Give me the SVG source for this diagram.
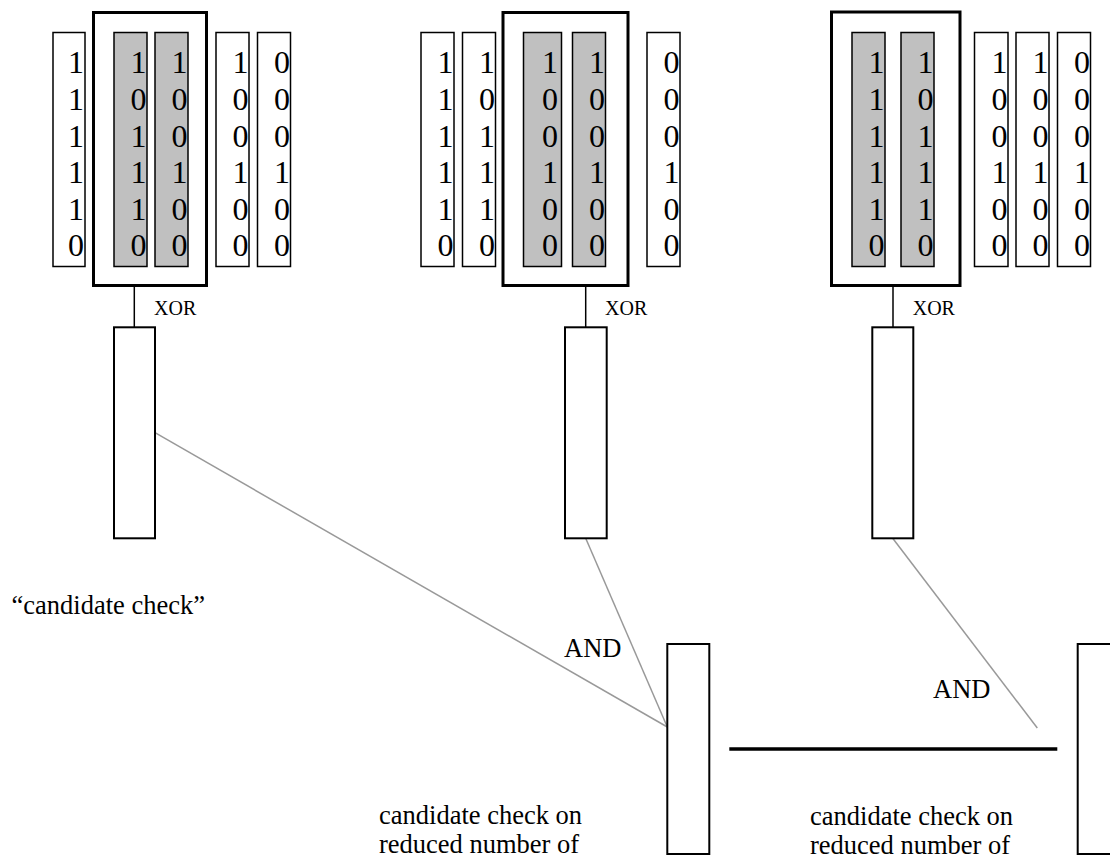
<svg xmlns="http://www.w3.org/2000/svg" width="1110" height="856" viewBox="0 0 1110 856">
<style>
.col{fill:#fff;stroke:#000;stroke-width:1.5}
.g{fill:#c0c0c0;stroke:#000;stroke-width:1.5}
.big{fill:none;stroke:#000;stroke-width:3}
.low{fill:#fff;stroke:#000;stroke-width:2}
.d{font-family:"Liberation Serif","Times New Roman",serif;font-size:32px;text-anchor:end;fill:#000}
.t{font-family:"Liberation Serif","Times New Roman",serif;fill:#000}
.xor{font-size:20px}
.lbl{font-size:26.5px}
.wire{stroke:#000;stroke-width:1.5}
.gl{stroke:#999;stroke-width:1.5;fill:none}
</style>
<g id="group1">
<rect class="big" x="93.5" y="12.5" width="113" height="273"/>
<rect class="col" x="53" y="32.5" width="32" height="234"/>
<rect class="g" x="114" y="32.5" width="33" height="234"/>
<rect class="g" x="155" y="32.5" width="33" height="234"/>
<rect class="col" x="216" y="32.5" width="33" height="234"/>
<rect class="col" x="257.5" y="32.5" width="33" height="234"/>
<text class="d"><tspan x="84" y="73.3">1</tspan><tspan x="84" y="110">1</tspan><tspan x="84" y="146.6">1</tspan><tspan x="84" y="183.2">1</tspan><tspan x="84" y="219.8">1</tspan><tspan x="84" y="256.4">0</tspan></text>
<text class="d"><tspan x="146.5" y="73.3">1</tspan><tspan x="146.5" y="110">0</tspan><tspan x="146.5" y="146.6">1</tspan><tspan x="146.5" y="183.2">1</tspan><tspan x="146.5" y="219.8">1</tspan><tspan x="146.5" y="256.4">0</tspan></text>
<text class="d"><tspan x="187.5" y="73.3">1</tspan><tspan x="187.5" y="110">0</tspan><tspan x="187.5" y="146.6">0</tspan><tspan x="187.5" y="183.2">1</tspan><tspan x="187.5" y="219.8">0</tspan><tspan x="187.5" y="256.4">0</tspan></text>
<text class="d"><tspan x="248.5" y="73.3">1</tspan><tspan x="248.5" y="110">0</tspan><tspan x="248.5" y="146.6">0</tspan><tspan x="248.5" y="183.2">1</tspan><tspan x="248.5" y="219.8">0</tspan><tspan x="248.5" y="256.4">0</tspan></text>
<text class="d"><tspan x="290" y="73.3">0</tspan><tspan x="290" y="110">0</tspan><tspan x="290" y="146.6">0</tspan><tspan x="290" y="183.2">1</tspan><tspan x="290" y="219.8">0</tspan><tspan x="290" y="256.4">0</tspan></text>
<text class="t xor" x="154" y="315">XOR</text>
</g>
<g id="group2">
<rect class="big" x="503" y="12.5" width="125" height="273"/>
<rect class="col" x="421" y="32.5" width="33" height="234"/>
<rect class="col" x="462.5" y="32.5" width="33" height="234"/>
<rect class="g" x="523.5" y="32.5" width="38" height="234"/>
<rect class="g" x="572.5" y="32.5" width="33" height="234"/>
<rect class="col" x="647" y="32.5" width="33" height="234"/>
<text class="d"><tspan x="453.5" y="73.3">1</tspan><tspan x="453.5" y="110">1</tspan><tspan x="453.5" y="146.6">1</tspan><tspan x="453.5" y="183.2">1</tspan><tspan x="453.5" y="219.8">1</tspan><tspan x="453.5" y="256.4">0</tspan></text>
<text class="d"><tspan x="495" y="73.3">1</tspan><tspan x="495" y="110">0</tspan><tspan x="495" y="146.6">1</tspan><tspan x="495" y="183.2">1</tspan><tspan x="495" y="219.8">1</tspan><tspan x="495" y="256.4">0</tspan></text>
<text class="d"><tspan x="558" y="73.3">1</tspan><tspan x="558" y="110">0</tspan><tspan x="558" y="146.6">0</tspan><tspan x="558" y="183.2">1</tspan><tspan x="558" y="219.8">0</tspan><tspan x="558" y="256.4">0</tspan></text>
<text class="d"><tspan x="605" y="73.3">1</tspan><tspan x="605" y="110">0</tspan><tspan x="605" y="146.6">0</tspan><tspan x="605" y="183.2">1</tspan><tspan x="605" y="219.8">0</tspan><tspan x="605" y="256.4">0</tspan></text>
<text class="d"><tspan x="679.5" y="73.3">0</tspan><tspan x="679.5" y="110">0</tspan><tspan x="679.5" y="146.6">0</tspan><tspan x="679.5" y="183.2">1</tspan><tspan x="679.5" y="219.8">0</tspan><tspan x="679.5" y="256.4">0</tspan></text>
<text class="t xor" x="605" y="315">XOR</text>
</g>
<g id="group3">
<rect class="big" x="831.5" y="12" width="128.5" height="273.5"/>
<rect class="g" x="852" y="32.5" width="33" height="234"/>
<rect class="g" x="901" y="32.5" width="33" height="234"/>
<rect class="col" x="974.5" y="32.5" width="33.5" height="234"/>
<rect class="col" x="1016" y="32.5" width="33" height="234"/>
<rect class="col" x="1057.5" y="32.5" width="33" height="234"/>
<text class="d"><tspan x="884.5" y="73.3">1</tspan><tspan x="884.5" y="110">1</tspan><tspan x="884.5" y="146.6">1</tspan><tspan x="884.5" y="183.2">1</tspan><tspan x="884.5" y="219.8">1</tspan><tspan x="884.5" y="256.4">0</tspan></text>
<text class="d"><tspan x="933.5" y="73.3">1</tspan><tspan x="933.5" y="110">0</tspan><tspan x="933.5" y="146.6">1</tspan><tspan x="933.5" y="183.2">1</tspan><tspan x="933.5" y="219.8">1</tspan><tspan x="933.5" y="256.4">0</tspan></text>
<text class="d"><tspan x="1007.5" y="73.3">1</tspan><tspan x="1007.5" y="110">0</tspan><tspan x="1007.5" y="146.6">0</tspan><tspan x="1007.5" y="183.2">1</tspan><tspan x="1007.5" y="219.8">0</tspan><tspan x="1007.5" y="256.4">0</tspan></text>
<text class="d"><tspan x="1048.5" y="73.3">1</tspan><tspan x="1048.5" y="110">0</tspan><tspan x="1048.5" y="146.6">0</tspan><tspan x="1048.5" y="183.2">1</tspan><tspan x="1048.5" y="219.8">0</tspan><tspan x="1048.5" y="256.4">0</tspan></text>
<text class="d"><tspan x="1090" y="73.3">0</tspan><tspan x="1090" y="110">0</tspan><tspan x="1090" y="146.6">0</tspan><tspan x="1090" y="183.2">1</tspan><tspan x="1090" y="219.8">0</tspan><tspan x="1090" y="256.4">0</tspan></text>
<text class="t xor" x="912.7" y="315">XOR</text>
</g>
<g id="connectors">
<line class="wire" x1="134.3" y1="286" x2="134.3" y2="327"/>
<line class="wire" x1="585.7" y1="286" x2="585.7" y2="327"/>
<line class="wire" x1="893" y1="286" x2="893" y2="327"/>
<line class="gl" x1="155" y1="432.7" x2="667.3" y2="727"/>
<line class="gl" x1="585.7" y1="538.3" x2="667.3" y2="727"/>
<line class="gl" x1="892.7" y1="538.3" x2="1037.3" y2="728"/>
<line x1="729.3" y1="749" x2="1057.3" y2="749" stroke="#000" stroke-width="3.5"/>
</g>
<g id="xor1"><rect class="low" x="114" y="327.3" width="41" height="211"/></g>
<g id="xor2"><rect class="low" x="565" y="327.3" width="41.7" height="211"/></g>
<g id="xor3"><rect class="low" x="872.3" y="327.3" width="41" height="211"/></g>
<g id="and1"><rect class="low" x="667.3" y="644" width="42" height="210"/></g>
<g id="and2"><rect class="low" x="1077.7" y="644" width="42" height="210"/></g>
<g id="labels">
<text class="t lbl" x="11.5" y="614">“candidate check”</text>
<text class="t lbl" x="564" y="657">AND</text>
<text class="t lbl" x="933" y="698">AND</text>
<text class="t lbl" x="379" y="824">candidate check on</text>
<text class="t lbl" x="379" y="853">reduced number of</text>
<text class="t lbl" x="810" y="825">candidate check on</text>
<text class="t lbl" x="810" y="853.5">reduced number of</text>
</g>
</svg>
